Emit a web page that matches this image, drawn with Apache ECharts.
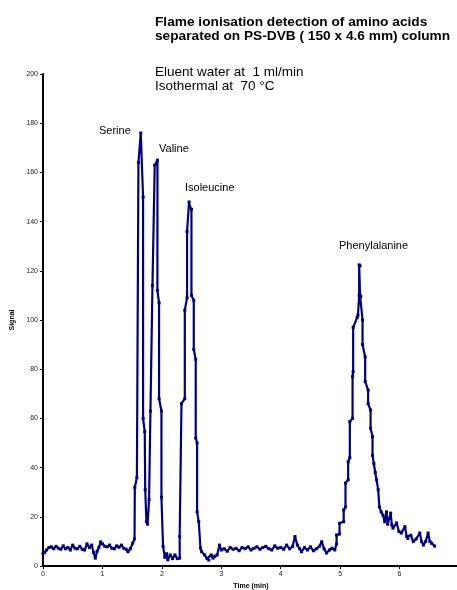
<!DOCTYPE html>
<html>
<head>
<meta charset="utf-8">
<script src="https://cdn.jsdelivr.net/npm/echarts@6/dist/echarts.min.js"></script>
<style>
  html, body { margin: 0; padding: 0; background: #fff; }
  #chart { width: 457px; height: 590px; }
</style>
</head>
<body>
<div id="chart"></div>
<script>
// retention time (min) and detector signal
const timeMin = [
  0, 0.03, 0.06, 0.1, 0.14, 0.18, 0.22, 0.26, 0.3, 0.34, 0.38, 0.42, 0.46, 0.5, 0.54, 0.58, 0.62, 0.66, 0.7, 0.74,
  0.78, 0.82, 0.85, 0.88, 0.91, 0.94, 0.97, 1.0, 1.04, 1.08, 1.12, 1.16, 1.2, 1.24, 1.28, 1.32, 1.36, 1.4, 1.43, 1.47, 1.51,
  // serine
  1.54, 1.545, 1.58, 1.606, 1.645, 1.684, 1.684, 1.712, 1.72, 1.741, 1.76,
  // valine
  1.785, 1.808, 1.842, 1.88, 1.915, 1.926, 1.925, 1.953, 1.953, 1.993, 1.993, 2.02,
  2.05, 2.08, 2.1, 2.14, 2.18, 2.22, 2.26, 2.3,
  // isoleucine
  2.3, 2.33, 2.386, 2.386, 2.424, 2.424, 2.458, 2.47, 2.498, 2.498, 2.537, 2.537, 2.57, 2.57, 2.593, 2.593, 2.621, 2.65,
  2.67, 2.72, 2.76, 2.79, 2.83, 2.86, 2.89, 2.93, 2.97,
  3.0, 3.05, 3.1, 3.15, 3.2, 3.25, 3.3, 3.35, 3.4, 3.45, 3.5, 3.55, 3.6, 3.65, 3.7, 3.75, 3.8, 3.85, 3.9, 3.95,
  4.0, 4.05, 4.1, 4.15, 4.2, 4.24, 4.28, 4.32, 4.35, 4.4, 4.45, 4.5, 4.55, 4.6, 4.65, 4.69, 4.73, 4.77, 4.82, 4.86, 4.91,
  // phenylalanine
  4.94, 4.94, 4.99, 4.99, 5.06, 5.06, 5.09, 5.09, 5.135, 5.135, 5.163, 5.163, 5.209, 5.209, 5.219, 5.219, 5.286, 5.3,
  5.32, 5.32, 5.335, 5.335, 5.348, 5.377, 5.377, 5.421, 5.421, 5.471, 5.471, 5.512, 5.512, 5.545, 5.545, 5.567, 5.59,
  5.613, 5.64, 5.66, 5.69, 5.72, 5.75, 5.78, 5.8, 5.85, 5.87, 5.89, 5.95, 5.99, 6.03, 6.09, 6.12, 6.14, 6.19, 6.23,
  6.28, 6.34, 6.37, 6.4, 6.44, 6.48, 6.51, 6.54, 6.59
];
const signal = [
  5, 5.5, 6.5, 7.5, 7.8, 7, 8, 7.2, 6.8, 8.2, 7, 7.5, 6.5, 8.5, 7.2, 7, 8, 6.8, 6.5, 9,
  7.5, 8.5, 5.5, 3.2, 6, 7.5, 9.8, 9, 8, 7.8, 8.5, 7.2, 7, 8.2, 7.6, 8.5, 7.2, 6.8, 5.8, 7, 9.3,
  11, 32, 36, 164, 176, 150, 60, 54.6, 31, 18, 17,
  27, 63, 114, 163, 164, 165, 112, 107, 68, 63, 28, 8,
  3.5, 5, 2.5, 4.5, 3, 4.5, 3, 3.2,
  12, 66, 68, 104, 109, 136, 148, 146, 145, 110, 108, 88, 84, 52, 50, 22, 18, 7.3,
  5.8, 4.5, 3, 2.4, 4.5, 3.2, 4, 4.5, 8.5,
  6.5, 7, 6, 7.5, 6.8, 7.2, 6.2, 7.5, 7, 7.8, 6.5, 7.2, 7.8, 6.8, 7.5, 8, 7, 6.5, 8.2, 7.2,
  7.5, 6.8, 8.5, 7, 8, 12, 8.5, 7, 5.8, 7.5, 6.5, 7.8, 6.2, 7, 8, 9.9, 7, 5.3, 6.5, 7.2, 6.5,
  9, 12.6, 13, 17.4, 18, 22.8, 24, 33.7, 35, 42.4, 44, 58.7, 60, 77, 79, 97, 101, 102,
  110, 122.4, 122, 110, 109.5, 100, 90, 85, 75, 71.5, 66, 63.4, 56, 52.6, 45, 41.7, 38,
  35, 31, 24, 22, 20.7, 18, 22, 17, 21.5, 16.7, 15.4, 17.5, 14, 13.4, 16, 12, 11.2, 12.5, 9.9,
  11, 13.4, 10, 8.5, 10, 13.4, 10, 9.2, 8.1
];

const titleLines = ['Flame ionisation detection of amino acids', 'separated on PS-DVB ( 150 x 4.6 mm) column'];
const noteLines = ['Eluent water at  1 ml/min', 'Isothermal at  70 \u00b0C'];
const peakNames = ['Serine', 'Valine', 'Isoleucine', 'Phenylalanine'];
const peakLabelPos = [[99, 125], [159, 143], [185, 182], [339, 240]];

const navy = '#000080';
const fontFam = 'Liberation Sans, Arial, sans-serif';

const chart = echarts.init(document.getElementById('chart'));

const texts = [];
titleLines.forEach((t, i) => {
  texts.push({ type: 'text', left: 155, top: 15 + i * 14,
    style: { text: t, font: 'bold 13.7px ' + fontFam, fill: '#000' } });
});
noteLines.forEach((t, i) => {
  texts.push({ type: 'text', left: 155, top: 65 + i * 14,
    style: { text: t, font: '13.5px ' + fontFam, fill: '#000' } });
});
peakNames.forEach((t, i) => {
  texts.push({ type: 'text', left: peakLabelPos[i][0], top: peakLabelPos[i][1],
    style: { text: t, font: '11px ' + fontFam, fill: '#000' } });
});

chart.setOption({
  animation: false,
  grid: { left: 43, top: 74, right: -2, bottom: 24, containLabel: false, outerBoundsMode: 'none' },
  xAxis: {
    type: 'value',
    min: 0, max: 7, interval: 1,
    name: 'Time (min)',
    nameLocation: 'middle',
    nameGap: 15,
    nameTextStyle: { fontFamily: fontFam, fontSize: 7, fontWeight: 'bold', color: '#000' },
    axisLine: { show: true, lineStyle: { color: '#000', width: 2 } },
    axisTick: { show: true, length: 3, lineStyle: { color: '#000' } },
    axisLabel: { fontFamily: fontFam, fontSize: 7, color: '#222', margin: 5, showMaxLabel: true, hideOverlap: false },
    splitLine: { show: false }
  },
  yAxis: {
    type: 'value',
    min: 0, max: 200, interval: 20,
    name: 'Signal',
    nameLocation: 'middle',
    nameGap: 23,
    nameTextStyle: { fontFamily: fontFam, fontSize: 7, fontWeight: 'bold', color: '#000' },
    axisLine: { show: true, lineStyle: { color: '#000', width: 2 } },
    axisTick: { show: true, length: 3, lineStyle: { color: '#000' } },
    axisLabel: { fontFamily: fontFam, fontSize: 7, color: '#222', margin: 5 },
    splitLine: { show: false }
  },
  series: [{
    type: 'line',
    data: timeMin.map((t, i) => [t, signal[i]]),
    symbol: 'rect',
    symbolSize: 3,
    showSymbol: true,
    itemStyle: { color: navy },
    lineStyle: { color: navy, width: 2.2 }
  }],
  graphic: texts
});
</script>
</body>
</html>
